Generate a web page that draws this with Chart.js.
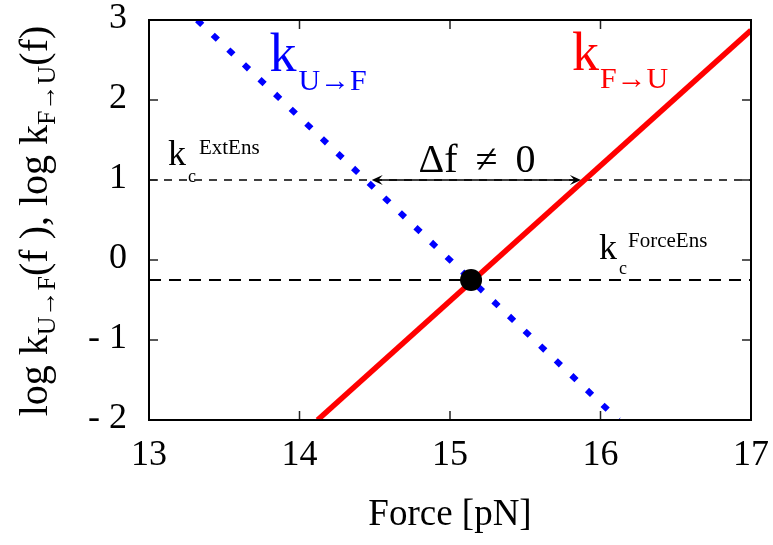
<!DOCTYPE html>
<html>
<head>
<meta charset="utf-8">
<script src="https://cdn.jsdelivr.net/npm/chart.js@4"></script>
<style>
  body { margin: 0; background: #fff; }
  canvas { display: block; }
</style>
</head>
<body>
<canvas id="rateChart" width="773" height="545"></canvas>
<script>
// axis ranges
var forceRange = [13, 17];
var logRange = [-2, 3];

// k F->U (red, solid) end points
var kFUforce = [14.12, 17.0];
var kFUlog = [-2, 2.87];

// k U->F (blue, dotted) end points
var kUFforce = [13.32, 16.12];
var kUFlog = [3, -2];

// critical rates (horizontal dashed lines)
var kcExtEns = 1;
var kcForceEns = -0.25;

// crossing point and the delta-f arrow
var crossForce = 15.14;
var crossLog = -0.25;
var deltaArrow = [14.48, 15.87];

var FONT = "'Liberation Serif', 'DejaVu Serif', serif";

function pts(xs, ys) {
  return xs.map(function (x, i) { return { x: x, y: ys[i] }; });
}

// draws text made of pieces (normal, sub, superscript)
function drawRich(ctx, x, y, parts) {
  var cx = x;
  parts.forEach(function (p) {
    ctx.font = p.size + 'px ' + FONT;
    cx += (p.dx || 0);
    ctx.fillText(p.text, cx, y + (p.dy || 0));
    cx += ctx.measureText(p.text).width;
  });
  return cx - x;
}

function richWidth(ctx, parts) {
  var w = 0;
  parts.forEach(function (p) {
    ctx.font = p.size + 'px ' + FONT;
    w += (p.dx || 0) + ctx.measureText(p.text).width;
  });
  return w;
}

function arrowHead(ctx, x, y, dir) {
  var L = 11, W = 5;
  ctx.beginPath();
  ctx.moveTo(x, y);
  ctx.lineTo(x - dir * L, y - W);
  ctx.lineTo(x - dir * L * 0.6, y);
  ctx.lineTo(x - dir * L, y + W);
  ctx.closePath();
  ctx.fill();
}

var decor = {
  id: 'decor',
  afterDatasetsDraw: function (chart) {
    var ctx = chart.ctx;
    var xs = chart.scales.x, ys = chart.scales.y;
    var a = chart.chartArea;
    ctx.save();

    // delta f arrow
    var yA = ys.getPixelForValue(kcExtEns);
    var x1 = xs.getPixelForValue(deltaArrow[0]);
    var x2 = xs.getPixelForValue(deltaArrow[1]);
    ctx.strokeStyle = '#000';
    ctx.fillStyle = '#000';
    ctx.lineWidth = 1.3;
    ctx.beginPath();
    ctx.moveTo(x1 + 4, yA);
    ctx.lineTo(x2 - 4, yA);
    ctx.stroke();
    arrowHead(ctx, x1, yA, -1);
    arrowHead(ctx, x2, yA, 1);

    // inward tick marks on all four sides
    var tl = 9;
    ctx.strokeStyle = '#222';
    ctx.lineWidth = 1.5;
    ctx.beginPath();
    xs.ticks.forEach(function (t) {
      if (t.value <= forceRange[0] || t.value >= forceRange[1]) return;
      var px = xs.getPixelForValue(t.value);
      ctx.moveTo(px, a.bottom); ctx.lineTo(px, a.bottom - tl);
      ctx.moveTo(px, a.top); ctx.lineTo(px, a.top + tl);
    });
    ys.ticks.forEach(function (t) {
      if (t.value <= logRange[0] || t.value >= logRange[1]) return;
      var py = ys.getPixelForValue(t.value);
      ctx.moveTo(a.left, py); ctx.lineTo(a.left + tl, py);
      ctx.moveTo(a.right, py); ctx.lineTo(a.right - tl, py);
    });
    ctx.stroke();

    // frame
    ctx.strokeStyle = '#000';
    ctx.lineWidth = 2;
    ctx.strokeRect(a.left, a.top, a.right - a.left, a.bottom - a.top);

    // labels
    ctx.textBaseline = 'alphabetic';
    ctx.textAlign = 'left';

    ctx.fillStyle = '#0000ff';
    drawRich(ctx, xs.getPixelForValue(13.8), ys.getPixelForValue(2.36), [
      { text: 'k', size: 54 },
      { text: 'U\u2192F', size: 30, dy: 19, dx: 2 }
    ]);

    ctx.fillStyle = '#ff0000';
    drawRich(ctx, xs.getPixelForValue(15.81), ys.getPixelForValue(2.375), [
      { text: 'k', size: 54 },
      { text: 'F\u2192U', size: 30, dy: 18, dx: 1 }
    ]);

    ctx.fillStyle = '#000';
    drawRich(ctx, xs.getPixelForValue(13.126), ys.getPixelForValue(1.19), [
      { text: 'k', size: 36 },
      { text: 'c', size: 18, dy: 17, dx: 2 },
      { text: 'ExtEns', size: 21, dy: -11, dx: 3 }
    ]);
    drawRich(ctx, xs.getPixelForValue(15.99), ys.getPixelForValue(0.012), [
      { text: 'k', size: 36 },
      { text: 'c', size: 18, dy: 15, dx: 2 },
      { text: 'ForceEns', size: 21, dy: -12, dx: 1 }
    ]);

    ctx.font = '40px ' + FONT;
    ctx.textAlign = 'center';
    ctx.fillText('\u0394f \u2009\u2260\u2009 0', xs.getPixelForValue(15.18), ys.getPixelForValue(1.1));

    // y axis title, rotated
    var title = [
      { text: 'log k', size: 40 },
      { text: 'U\u2192F', size: 26, dy: 8 },
      { text: '(f ), log k', size: 40 },
      { text: 'F\u2192U', size: 26, dy: 8 },
      { text: '(f)', size: 40 }
    ];
    ctx.textAlign = 'left';
    var w = richWidth(ctx, title);
    ctx.translate(47, 221);
    ctx.rotate(-Math.PI / 2);
    drawRich(ctx, -w / 2, 0, title);

    ctx.restore();
  }
};

var ctx = document.getElementById('rateChart').getContext('2d');
var rateChart = new Chart(ctx, {
  type: 'line',
  data: {
    datasets: [
      {
        data: [{ x: crossForce, y: crossLog }],
        showLine: false,
        pointRadius: 11,
        pointBackgroundColor: '#000',
        pointBorderWidth: 0
      },
      {
        data: pts(kFUforce, kFUlog),
        borderColor: '#ff0000',
        borderWidth: 5.5
      },
      {
        data: pts(kUFforce, kUFlog),
        borderColor: '#0000ff',
        borderWidth: 6,
        borderDash: [7, 14.5],
        borderCapStyle: 'butt'
      },
      {
        data: pts(forceRange, [kcExtEns, kcExtEns]),
        borderColor: '#000',
        borderWidth: 1.5,
        borderDash: [8, 7]
      },
      {
        data: pts(forceRange, [kcForceEns, kcForceEns]),
        borderColor: '#000',
        borderWidth: 2,
        borderDash: [12, 8]
      }
    ]
  },
  options: {
    responsive: false,
    animation: false,
    layout: { padding: 0 },
    elements: {
      point: { radius: 0, hoverRadius: 0 },
      line: { tension: 0, fill: false }
    },
    plugins: {
      legend: { display: false },
      tooltip: { enabled: false }
    },
    scales: {
      x: {
        type: 'linear',
        min: forceRange[0],
        max: forceRange[1],
        grid: { display: false, drawTicks: false },
        border: { display: false },
        ticks: {
          stepSize: 1,
          maxRotation: 0,
          padding: 14,
          color: '#000',
          font: { family: FONT, size: 36 }
        },
        title: {
          display: true,
          text: 'Force [pN]',
          color: '#000',
          font: { family: FONT, size: 37 },
          padding: { top: 0, bottom: 8 }
        },
        afterFit: function (s) { s.height = 125; s.paddingLeft = 0; s.paddingRight = 22; }
      },
      y: {
        type: 'linear',
        min: logRange[0],
        max: logRange[1],
        grid: { display: false, drawTicks: false },
        border: { display: false },
        ticks: {
          stepSize: 1,
          padding: 22,
          labelOffset: -1,
          color: '#000',
          font: { family: FONT, size: 36, lineHeight: 1 },
          callback: function (v) { return v < 0 ? '- ' + (-v) : String(v); }
        },
        afterFit: function (s) { s.width = 149; s.paddingTop = 20; s.paddingBottom = 0; }
      }
    }
  },
  plugins: [decor]
});
</script>
</body>
</html>
